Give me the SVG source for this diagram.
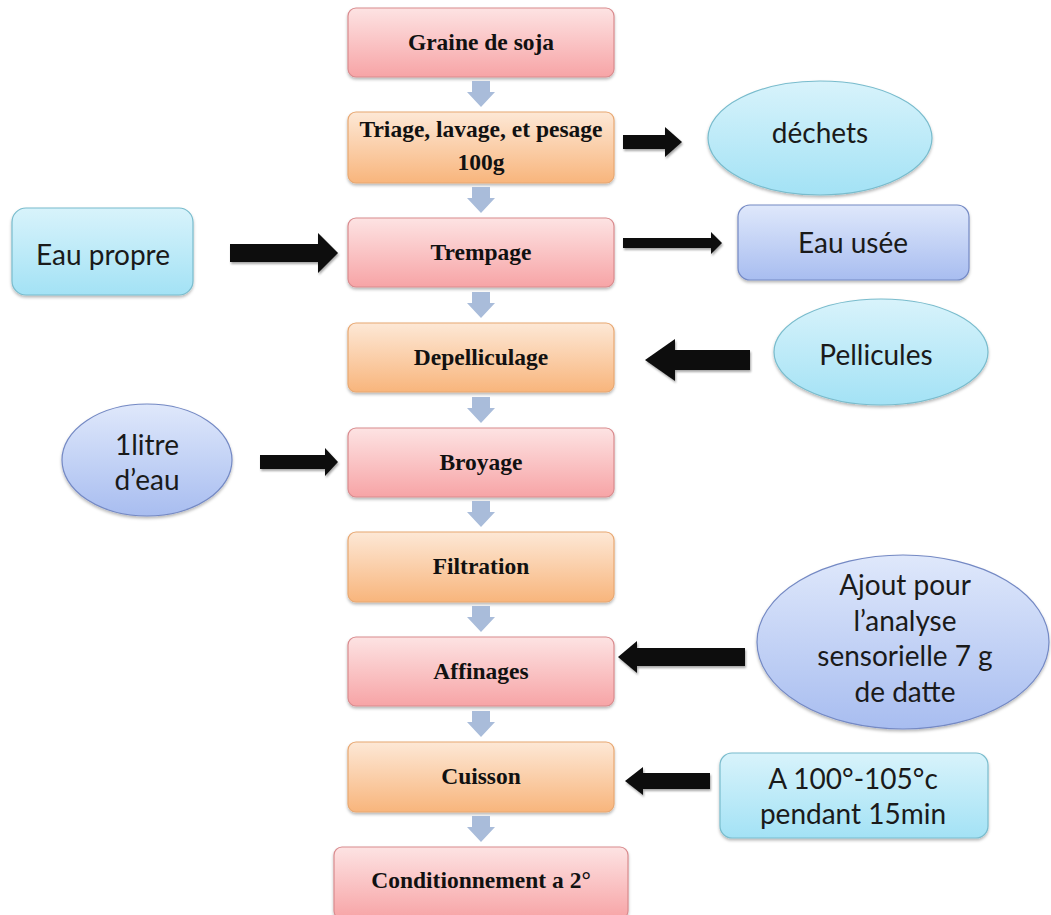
<svg xmlns="http://www.w3.org/2000/svg" width="1051" height="915" viewBox="0 0 1051 915">
  <defs>
    <linearGradient id="gPink" x1="0" y1="0" x2="0" y2="1">
      <stop offset="0" stop-color="#fde3e3"/>
      <stop offset="1" stop-color="#f7a4a6"/>
    </linearGradient>
    <linearGradient id="gOrange" x1="0" y1="0" x2="0" y2="1">
      <stop offset="0" stop-color="#fde8d6"/>
      <stop offset="1" stop-color="#f8b57c"/>
    </linearGradient>
    <linearGradient id="gCyan" x1="0" y1="0" x2="0" y2="1">
      <stop offset="0" stop-color="#d8f3fb"/>
      <stop offset="1" stop-color="#a3e2f5"/>
    </linearGradient>
    <linearGradient id="gBlue" x1="0" y1="0" x2="0" y2="1">
      <stop offset="0" stop-color="#dfe8fb"/>
      <stop offset="1" stop-color="#a8bdf0"/>
    </linearGradient>
    <filter id="shadow" x="-10%" y="-10%" width="120%" height="130%">
      <feDropShadow dx="0" dy="2" stdDeviation="1.6" flood-color="#000" flood-opacity="0.28"/>
    </filter>
    <filter id="ashadow" x="-10%" y="-30%" width="120%" height="170%">
      <feDropShadow dx="1" dy="2" stdDeviation="1.2" flood-color="#000" flood-opacity="0.35"/>
    </filter>
    <path id="down" d="M -9 0 h 18 v 11 h 5 l -14 15 l -14 -15 h 5 z"/>
  </defs>
  <style>
    .pink { fill: url(#gPink); stroke: #d98b8e; stroke-width: 1.2; filter: url(#shadow); }
    .orange { fill: url(#gOrange); stroke: #e8a872; stroke-width: 1.2; filter: url(#shadow); }
    .cyan { fill: url(#gCyan); stroke: #79bccd; stroke-width: 1.2; filter: url(#shadow); }
    .blue { fill: url(#gBlue); stroke: #7489c4; stroke-width: 1.2; filter: url(#shadow); }
    .step { font-family: "Liberation Serif", "Times New Roman", serif; font-weight: bold; font-size: 23.5px; fill: #111; text-anchor: middle; }
    .side { font-family: Lato, "Liberation Sans", sans-serif; font-size: 28px; fill: #1a1a1a; text-anchor: middle; }
    .flow { fill: #a9bcda; }
    .bold-arrow { fill: #0d0d0d; filter: url(#ashadow); }
  </style>

  <rect width="1051" height="915" fill="#ffffff"/>

  <!-- main process steps -->
  <g id="graine">
    <rect class="pink" x="348" y="8" width="266" height="69" rx="8"/>
    <text class="step" x="481" y="50">Graine de soja</text>
  </g>
  <g id="triage">
    <rect class="orange" x="348" y="112" width="266" height="71" rx="8"/>
    <text class="step" x="481" y="137">Triage, lavage, et pesage</text>
    <text class="step" x="481" y="170">100g</text>
  </g>
  <g id="trempage">
    <rect class="pink" x="348" y="218" width="266" height="69" rx="8"/>
    <text class="step" x="481" y="260">Trempage</text>
  </g>
  <g id="depelliculage">
    <rect class="orange" x="348" y="323" width="266" height="69" rx="8"/>
    <text class="step" x="481" y="365">Depelliculage</text>
  </g>
  <g id="broyage">
    <rect class="pink" x="348" y="428" width="266" height="69" rx="8"/>
    <text class="step" x="481" y="470">Broyage</text>
  </g>
  <g id="filtration">
    <rect class="orange" x="348" y="532" width="266" height="70" rx="8"/>
    <text class="step" x="481" y="574">Filtration</text>
  </g>
  <g id="affinages">
    <rect class="pink" x="348" y="637" width="266" height="69" rx="8"/>
    <text class="step" x="481" y="679">Affinages</text>
  </g>
  <g id="cuisson">
    <rect class="orange" x="348" y="742" width="266" height="70" rx="8"/>
    <text class="step" x="481" y="784">Cuisson</text>
  </g>
  <g id="conditionnement">
    <rect class="pink" x="334" y="847" width="294" height="72" rx="8"/>
    <text class="step" x="481" y="888">Conditionnement  a 2°</text>
  </g>

  <!-- inputs and outputs -->
  <g id="dechets">
    <ellipse class="cyan" cx="820" cy="138" rx="112" ry="57"/>
    <text class="side" x="820" y="143">déchets</text>
  </g>
  <g id="eau-usee">
    <rect class="blue" x="738" y="205" width="231" height="75" rx="12"/>
    <text class="side" x="853" y="253">Eau usée</text>
  </g>
  <g id="eau-propre">
    <rect class="cyan" x="12" y="208" width="181" height="87" rx="14"/>
    <text class="side" x="103" y="265">Eau propre</text>
  </g>
  <g id="pellicules">
    <ellipse class="cyan" cx="881" cy="352" rx="107" ry="53"/>
    <text class="side" x="876" y="365">Pellicules</text>
  </g>
  <g id="litre-eau">
    <ellipse class="blue" cx="147" cy="460" rx="85" ry="56"/>
    <text class="side" x="147" y="455">1litre</text>
    <text class="side" x="147" y="490">d’eau</text>
  </g>
  <g id="ajout">
    <ellipse class="blue" cx="903" cy="642" rx="146" ry="87"/>
    <text class="side" x="905" y="595">Ajout pour</text>
    <text class="side" x="905" y="631">l’analyse</text>
    <text class="side" x="905" y="666">sensorielle 7 g</text>
    <text class="side" x="905" y="702">de datte</text>
  </g>
  <g id="temperature">
    <rect class="cyan" x="720" y="753" width="268" height="85" rx="12"/>
    <text class="side" x="853" y="789">A 100°-105°c</text>
    <text class="side" x="853" y="824">pendant 15min</text>
  </g>

  <!-- connectors -->
  <g id="connectors">
    <use href="#down" class="flow" x="481" y="81"/>
    <use href="#down" class="flow" x="481" y="187"/>
    <use href="#down" class="flow" x="481" y="292"/>
    <use href="#down" class="flow" x="481" y="397"/>
    <use href="#down" class="flow" x="481" y="501"/>
    <use href="#down" class="flow" x="481" y="606"/>
    <use href="#down" class="flow" x="481" y="711"/>
    <use href="#down" class="flow" x="481" y="816"/>

    <!-- triage to déchets -->
    <polygon class="bold-arrow" points="623,135 665,135 665,127 682,142 665,157 665,149 623,149"/>
    <!-- trempage to eau usée -->
    <polygon class="bold-arrow" points="623,238 711,238 711,232 722,243 711,254 711,248 623,248"/>
    <!-- eau propre to trempage -->
    <polygon class="bold-arrow" points="230,244 318,244 318,233 338,253 318,273 318,262 230,262"/>
    <!-- pellicules to depelliculage -->
    <polygon class="bold-arrow" points="750,350 675,350 675,339 645,360 675,381 675,370 750,370"/>
    <!-- 1 litre d'eau to broyage -->
    <polygon class="bold-arrow" points="260,455 325,455 325,448 338,462 325,476 325,469 260,469"/>
    <!-- ajout to affinages -->
    <polygon class="bold-arrow" points="745,648 637,648 637,641 618,657 637,673 637,666 745,666"/>
    <!-- temperature to cuisson -->
    <polygon class="bold-arrow" points="710,773 643,773 643,767 625,781 643,795 643,789 710,789"/>
  </g>
</svg>
